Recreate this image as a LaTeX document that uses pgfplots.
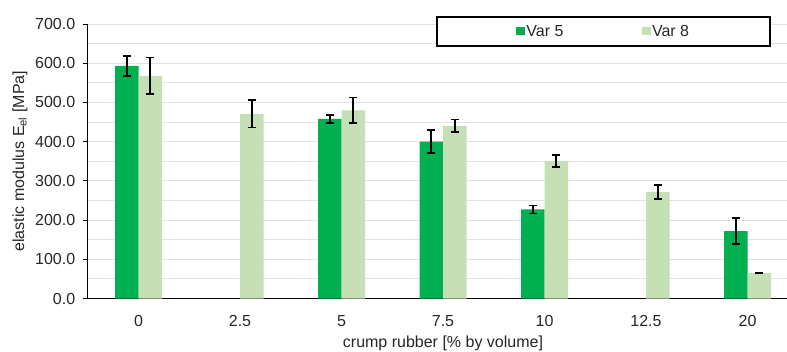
\documentclass[border=0pt]{standalone}
\usepackage{pgfplots}
\pgfplotsset{compat=1.18}
\usepackage{fontspec}
\setmainfont{Liberation Sans}
\definecolor{varfive}{HTML}{00B050}
\definecolor{vareight}{HTML}{C5E0B4}
\definecolor{gridc}{HTML}{E3E3E3}
\definecolor{txt}{HTML}{262626}
\begin{document}
\begin{tikzpicture}[font=\fontsize{16}{19}\selectfont, every node/.style={text=txt}]
\useasboundingbox (0,0) rectangle (787pt,351pt);
\begin{axis}[
  at={(87.75pt,52.5pt)}, anchor=south west,
  scale only axis, width=699.25pt, height=274.5pt,
  xmin=-0.5, xmax=6.389, ymin=0, ymax=700,
  ybar=0pt, bar width=23.5pt,
  xtick={0,1,2,3,4,5,6},
  xticklabels={0,2.5,5,7.5,10,12.5,20},
  x tick style={draw=none},
  ytick={0,100,...,700},
  minor ytick={50,150,...,650},
  ymajorgrids, yminorgrids,
  major grid style={gridc, line width=1pt},
  minor grid style={gridc, line width=1pt},
  y tick style={black, line width=0.8pt},
  major tick length=5pt,
  tick align=outside,
  minor tick length=0pt,
  axis x line*=bottom, axis y line*=left,
  x axis line style={black, line width=1.5pt, -},
  y axis line style={black, line width=1pt, -},
  /pgf/number format/assume math mode=true,
  yticklabel style={/pgf/number format/fixed, /pgf/number format/fixed zerofill, /pgf/number format/precision=1},
  yticklabel style={/tikz/xshift=-4pt, text=txt},
  xticklabel style={/tikz/yshift=-8pt, text=txt},
  ylabel={elastic modulus E\textsubscript{el} [MPa]},
  ylabel style={at={(axis description cs:-0.0969,0.5)}, anchor=center, rotate=0, text=txt},
  xlabel={crump rubber [\% by volume]},
  xlabel style={at={(axis description cs:0.508,-0.162)}, anchor=center, text=txt},
  legend columns=2,
  legend image code/.code={\fill[#1, draw=none] (0pt,-4pt) rectangle (8.5pt,4.5pt);},
  legend style={at={(axis description cs:0.7376,0.9727)}, anchor=center,
    draw=black, line width=1.5pt, fill=white, inner xsep=79.5pt, inner ysep=6.5pt,
    /tikz/every even column/.append style={column sep=77pt},
    nodes={inner sep=1.5pt, anchor=west, text=txt}},
  error bars/y dir=both, error bars/y explicit,
  error bars/error bar style={black, line width=1.6pt},
  error bars/error mark options={rotate=90, mark size=4pt, line width=1.6pt, black},
]
\addplot[fill=varfive, draw=none] coordinates {
  (0,593) +- (0,25)
  (2,458) +- (0,10)
  (3,400) +- (0,29)
  (4,227) +- (0,10)
  (6,172) +- (0,33)
};
\addlegendentry{Var 5}
\addplot[fill=vareight, draw=none] coordinates {
  (0,568) +- (0,47)
  (1,471) +- (0,35)
  (2,480) +- (0,33)
  (3,440) +- (0,16)
  (4,351) +- (0,15)
  (5,272) +- (0,18)
  (6,65) +- (0,1)
};
\addlegendentry{Var 8}
\end{axis}
\end{tikzpicture}
\end{document}
